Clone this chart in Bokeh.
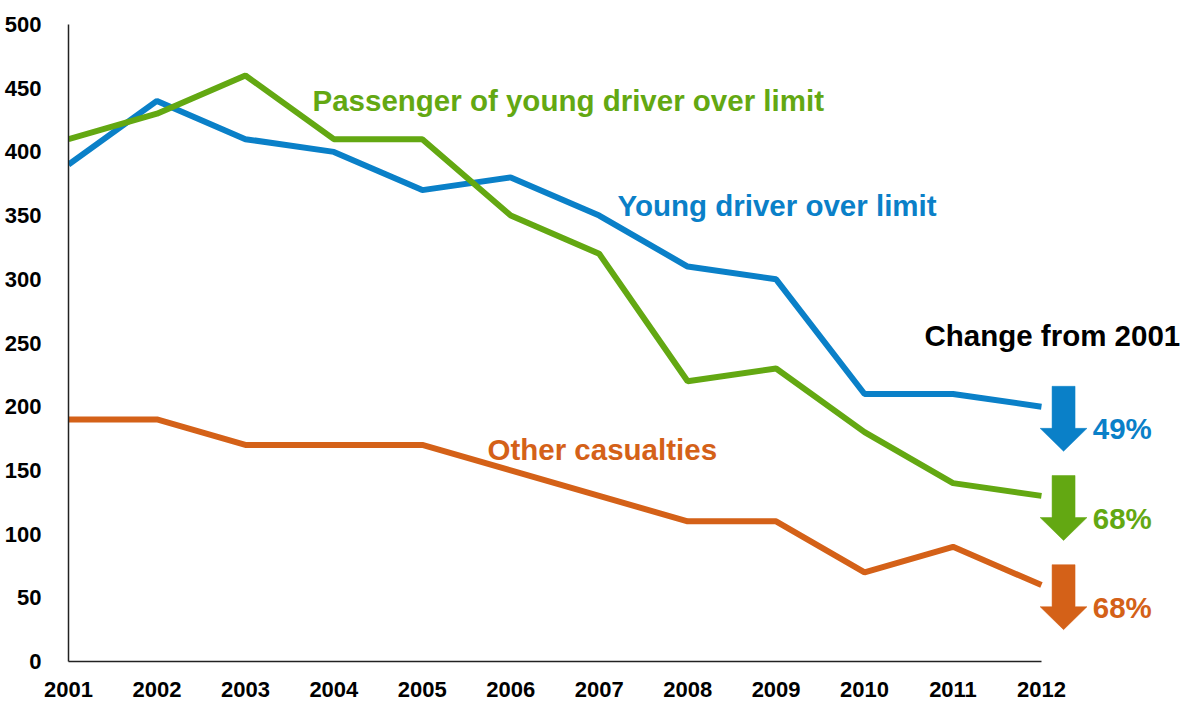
from bokeh.plotting import figure
from bokeh.models import Range1d, Label, FixedTicker
from bokeh.embed import file_html
from bokeh.resources import INLINE

years = [2001, 2002, 2003, 2004, 2005, 2006, 2007, 2008, 2009, 2010, 2011, 2012]
young_driver = [390, 440, 410, 400, 370, 380, 350, 310, 300, 210, 210, 200]
passenger = [410, 430, 460, 410, 410, 350, 320, 220, 230, 180, 140, 130]
other = [190, 190, 170, 170, 170, 150, 130, 110, 110, 70, 90, 60]
changes = ["49%", "68%", "68%"]
y_ticks = [0, 50, 100, 150, 200, 250, 300, 350, 400, 450, 500]

BLUE = "#0A80C8"
GREEN = "#63A812"
ORANGE = "#D46118"
FONT = "Liberation Sans"
PXY = 88.45  # pixels per year

p = figure(width=1181, height=702, output_backend="svg", toolbar_location=None,
           x_range=Range1d(2001, 2001 + (1181 - 68) / PXY), y_range=Range1d(0, 500),
           min_border_left=68, min_border_right=0, min_border_top=24, min_border_bottom=41)
p.outline_line_color = None
p.xgrid.grid_line_color = None
p.ygrid.grid_line_color = None

for ax in (p.xaxis[0], p.yaxis[0]):
    ax.major_tick_line_color = None
    ax.minor_tick_line_color = None
    ax.axis_line_color = "#222222"
    ax.axis_line_width = 1.5
    ax.major_label_text_font = FONT
    ax.major_label_text_font_style = "bold"
    ax.major_label_text_font_size = "22px"
    ax.major_label_text_color = "#000000"

p.xaxis.ticker = FixedTicker(ticks=years)
p.xaxis.bounds = (2001, 2012)
p.xaxis.major_label_standoff = 14
p.yaxis.ticker = FixedTicker(ticks=y_ticks)
p.yaxis.major_label_standoff = 21

series = [(young_driver, BLUE), (passenger, GREEN), (other, ORANGE)]
for vals, col in series:
    p.line(years, vals, line_color=col, line_width=6)

# arrows showing change from 2001
cx = 2012.25
shaft_hw = 0.13
head_hw = 0.265
for (vals, col), txt in zip(series, changes):
    v = vals[-1]
    xs = [cx - shaft_hw, cx + shaft_hw, cx + shaft_hw, cx + head_hw, cx, cx - head_hw, cx - shaft_hw]
    ys = [v + 16, v + 16, v - 17, v - 17, v - 35, v - 17, v - 17]
    p.patch(xs, ys, fill_color=col, line_color=col, line_width=0.5)
    p.add_layout(Label(x=cx + 0.33, y=v - 17.5, text=txt, text_color=col, text_font=FONT,
                       text_font_style="bold", text_font_size="29.5px",
                       text_baseline="middle", text_align="left"))

def lab(px, py, text, col):
    p.add_layout(Label(x=2001 + (px - 68) / PXY, y=(661 - py) / 1.274, text=text,
                       text_color=col, text_font=FONT, text_font_style="bold",
                       text_font_size="29.5px", text_baseline="middle", text_align="left"))

lab(312, 100, "Passenger of young driver over limit", GREEN)
lab(617, 205, "Young driver over limit", BLUE)
lab(487, 449, "Other casualties", ORANGE)
lab(924, 335, "Change from 2001", "#000000")

open("out.html", "w").write(file_html(p, INLINE))
